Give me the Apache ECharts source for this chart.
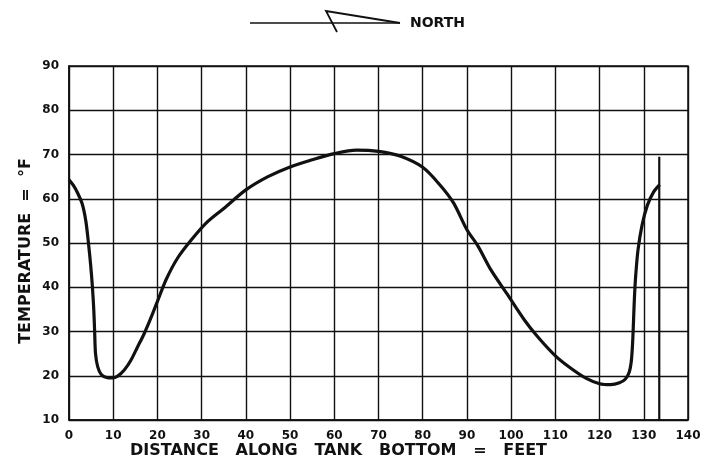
<!DOCTYPE html>
<html>
<head>
<meta charset="utf-8">
<script src="https://cdn.jsdelivr.net/npm/echarts@6/dist/echarts.min.js"></script>
<style>
html,body{margin:0;padding:0;background:#fff;}
#chart{width:718px;height:467px;}
</style>
</head>
<body>
<div id="chart"></div>
<script>
// Temperature profile along tank bottom (distance in feet, temperature in °F)
const distanceFt = [0,1,2,3,3.8,4.4,4.9,5.3,5.6,5.8,6,6.5,7.3,8.5,9.8,11,12.5,14,15.5,17,18.5,20,22,24.5,27.5,31,35,40,45,50,55,60,65,70,75,80,84,87,90,92.5,95.5,99,103,106,110,113.5,117,120,122.5,124.5,125.8,126.7,127.2,127.5,127.7,127.9,128.2,128.7,129.6,130.8,132.2,133.6];
const temperatureF = [64.3,63,61.2,58.8,55,50,45,40,35,30,25,22,20.3,19.6,19.5,19.9,21.3,23.5,26.5,29.5,33,36.8,41.8,46.5,50.5,54.5,57.8,62,65,67.2,68.8,70.2,71,70.7,69.6,67.1,63,59,53,49.3,43.8,38.6,32.6,28.8,24.5,21.7,19.4,18.2,18,18.4,19.2,20.8,23.5,28,33,38,43,48.5,54,58.5,61.5,63.2];
// Vertical end-wall marker
const wallX = [133.5, 133.5];
const wallY = [10, 69.5];

const xTicks = {min: 0, max: 140, interval: 10};
const yTicks = {min: 10, max: 90, interval: 10};
const xTitle = 'DISTANCE   ALONG   TANK   BOTTOM   =   FEET';
const yTitle = 'TEMPERATURE  =  °F';
const northLabel = 'NORTH';

const curve = distanceFt.map((d, i) => [d, temperatureF[i]]);
const wall = wallX.map((d, i) => [d, wallY[i]]);

const font = 'DejaVu Sans';
const chart = echarts.init(document.getElementById('chart'));
chart.setOption({
  animation: false,
  backgroundColor: '#fff',
  grid: {left: 69, right: 30, top: 66, bottom: 47, show: true, borderColor: '#111', borderWidth: 1.5, outerBoundsMode: 'none'},
  xAxis: {
    type: 'value', min: xTicks.min, max: xTicks.max, interval: xTicks.interval,
    name: xTitle, nameLocation: 'middle', nameGap: 23, nameMoveOverlap: false,
    nameTextStyle: {fontFamily: font, fontWeight: 'bold', fontSize: 16, color: '#111', padding: [0, 80, 0, 0]},
    axisLine: {lineStyle: {color: '#111', width: 1.5}},
    axisTick: {show: false},
    axisLabel: {fontFamily: font, fontWeight: 'bold', fontSize: 12, color: '#111', margin: 10},
    splitLine: {show: true, lineStyle: {color: '#111', width: 1.4}}
  },
  yAxis: {
    type: 'value', min: yTicks.min, max: yTicks.max, interval: yTicks.interval,
    name: yTitle, nameLocation: 'middle', nameGap: 35, nameRotate: 90, nameMoveOverlap: false,
    nameTextStyle: {fontFamily: font, fontWeight: 'bold', fontSize: 16, color: '#111', padding: [0, 16, 0, 0]},
    axisLine: {lineStyle: {color: '#111', width: 1.5}},
    axisTick: {show: false},
    axisLabel: {fontFamily: font, fontWeight: 'bold', fontSize: 12, color: '#111', margin: 10},
    splitLine: {show: true, lineStyle: {color: '#111', width: 1.4}}
  },
  graphic: [
    {type: 'line', shape: {x1: 250, y1: 23, x2: 400, y2: 23}, style: {stroke: '#111', lineWidth: 1.5}},
    {type: 'polyline', shape: {points: [[337, 32], [326, 11], [400, 23]]}, style: {stroke: '#111', lineWidth: 1.8, fill: null}},
    {type: 'text', left: 410, top: 16, style: {text: northLabel, fontFamily: font, fontWeight: 'bold', fontSize: 14, fill: '#111'}}
  ],
  series: [
    {type: 'line', data: curve, smooth: 0.3, showSymbol: false, lineStyle: {color: '#111', width: 3.2}, z: 5},
    {type: 'line', data: wall, showSymbol: false, lineStyle: {color: '#111', width: 2.2}, z: 4}
  ]
});
</script>
</body>
</html>
